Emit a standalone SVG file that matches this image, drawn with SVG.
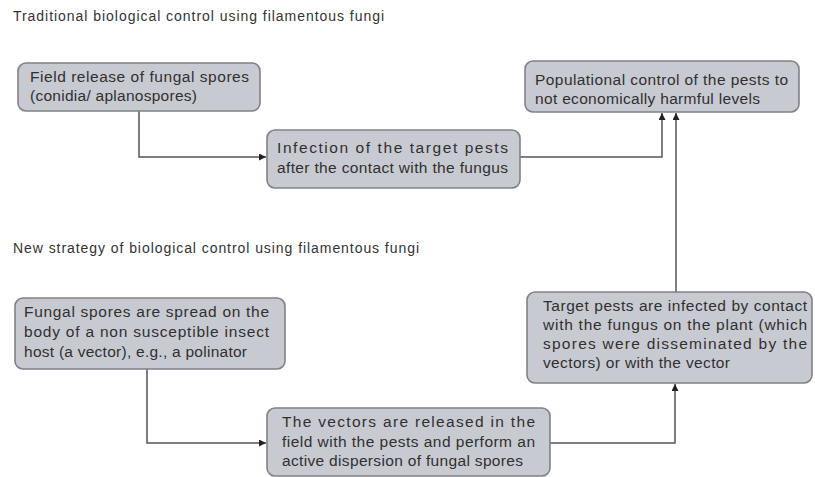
<svg xmlns="http://www.w3.org/2000/svg" width="815" height="477" viewBox="0 0 815 477">
<style>
.bg{fill:#ffffff}
.box{fill:#c8cad2;stroke:#808188;stroke-width:1.6}
.t{font-family:"Liberation Sans",Arial,sans-serif;font-size:15.5px;fill:#303030}
.title{font-family:"Liberation Sans",Arial,sans-serif;font-size:14px;fill:#333333}
.c{fill:none;stroke:#555555;stroke-width:1.5}
</style>
<defs>
<marker id="arr" markerUnits="userSpaceOnUse" markerWidth="8" markerHeight="8" refX="7" refY="3.5" orient="auto">
<path d="M0,0 L7,3.5 L0,7 z" fill="#222"/>
</marker>
</defs>
<rect class="bg" x="0" y="0" width="815" height="477"/>
<text class="title" x="13" y="21" textLength="371" lengthAdjust="spacing">Traditional biological control using filamentous fungi</text>
<text class="title" x="13" y="253" textLength="406" lengthAdjust="spacing">New strategy of biological control using filamentous fungi</text>

<g id="connectors">
<path class="c" d="M139,111 V157 H266" marker-end="url(#arr)"/>
<path class="c" d="M520,157 H662 V113" marker-end="url(#arr)"/>
<path class="c" d="M676,292 V113" marker-end="url(#arr)"/>
<path class="c" d="M147,369 V443 H266" marker-end="url(#arr)"/>
<path class="c" d="M550,443 H675 V384" marker-end="url(#arr)"/>
</g>

<g id="n1">
<rect class="box" x="18" y="63" width="242" height="48" rx="8"/>
<text class="t" x="30" y="82" textLength="219" lengthAdjust="spacing">Field release of fungal spores</text>
<text class="t" x="30" y="101" textLength="167" lengthAdjust="spacing">(conidia/ aplanospores)</text>
</g>
<g id="n2">
<rect class="box" x="267" y="130" width="253" height="58" rx="8"/>
<text class="t" x="277" y="153" textLength="231" lengthAdjust="spacing">Infection of the target pests</text>
<text class="t" x="277" y="173" textLength="231" lengthAdjust="spacing">after the contact with the fungus</text>
</g>
<g id="n3">
<rect class="box" x="525" y="61" width="274" height="51" rx="8"/>
<text class="t" x="535" y="85" textLength="253" lengthAdjust="spacing">Populational control of the pests to</text>
<text class="t" x="535" y="104" textLength="225" lengthAdjust="spacing">not economically harmful levels</text>
</g>
<g id="n4">
<rect class="box" x="15" y="298" width="270" height="71" rx="8"/>
<text class="t" x="24" y="317" textLength="245" lengthAdjust="spacing">Fungal spores are spread on the</text>
<text class="t" x="24" y="337" textLength="245" lengthAdjust="spacing">body of a non susceptible insect</text>
<text class="t" x="24" y="357" textLength="223" lengthAdjust="spacing">host (a vector), e.g., a polinator</text>
</g>
<g id="n5">
<rect class="box" x="267" y="408" width="283" height="68" rx="8"/>
<text class="t" x="282" y="427" textLength="253" lengthAdjust="spacing">The vectors are released in the</text>
<text class="t" x="282" y="447" textLength="253" lengthAdjust="spacing">field with the pests and perform an</text>
<text class="t" x="282" y="466" textLength="241" lengthAdjust="spacing">active dispersion of fungal spores</text>
</g>
<g id="n6">
<rect class="box" x="527" y="292" width="285" height="91" rx="8"/>
<text class="t" x="543" y="311" textLength="264" lengthAdjust="spacing">Target pests are infected by contact</text>
<text class="t" x="543" y="330" textLength="264" lengthAdjust="spacing">with the fungus on the plant (which</text>
<text class="t" x="543" y="349" textLength="264" lengthAdjust="spacing">spores were disseminated by the</text>
<text class="t" x="543" y="368" textLength="187" lengthAdjust="spacing">vectors) or with the vector</text>
</g>
</svg>
